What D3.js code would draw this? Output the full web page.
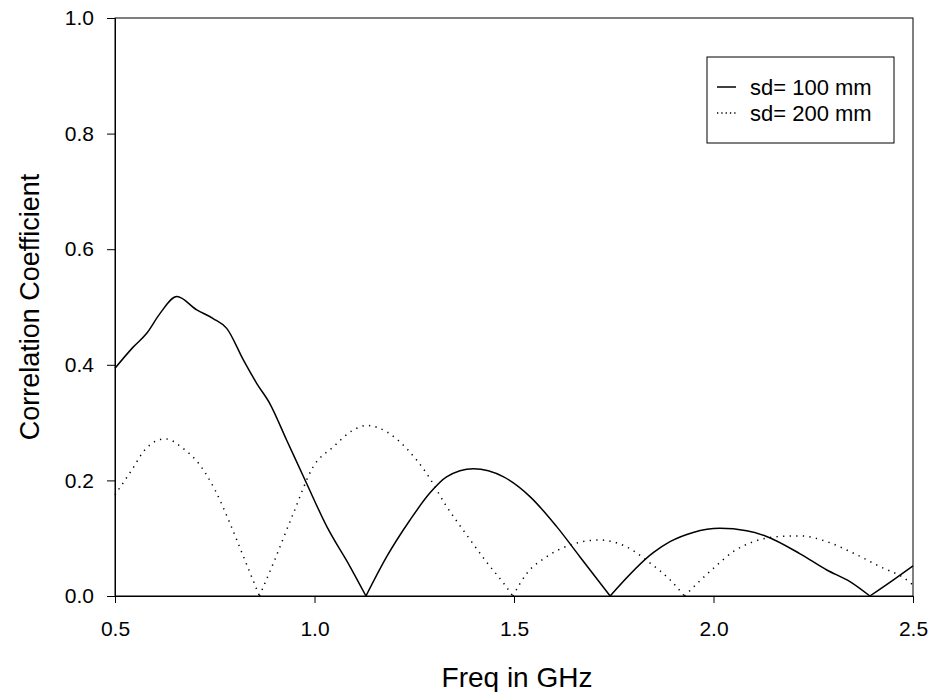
<!DOCTYPE html>
<html>
<head>
<meta charset="utf-8">
<script src="https://cdn.jsdelivr.net/npm/d3@7"></script>
<style>
  body { margin: 0; background: #fff; }
  text { font-family: "Liberation Sans", Arial, sans-serif; fill: #000; }
</style>
</head>
<body>
<script>
const width = 933;
const height = 692;
const margin = { top: 18, right: 20, bottom: 96, left: 115 };

// frequency (GHz) and correlation
const freq100 = [0.5, 0.546, 0.579, 0.613, 0.655, 0.705, 0.746, 0.78, 0.822, 0.855, 0.888, 0.93, 0.98, 1.031, 1.089, 1.129,
  1.181, 1.239, 1.289, 1.331, 1.398, 1.474, 1.54, 1.607, 1.665, 1.741,
  1.849, 1.891, 1.949, 2.016, 2.083, 2.133, 2.217, 2.284, 2.342, 2.392, 2.451, 2.5];
const corr100 = [0.394, 0.431, 0.454, 0.489, 0.518, 0.495, 0.48, 0.463, 0.408, 0.368, 0.333, 0.27, 0.195, 0.12, 0.051, 0,
  0.068, 0.131, 0.178, 0.206, 0.22, 0.206, 0.172, 0.12, 0.068, 0,
  0.075, 0.094, 0.11, 0.117, 0.113, 0.103, 0.073, 0.045, 0.025, 0, 0.028, 0.052];

const freq200 = [0.5, 0.542, 0.575, 0.625, 0.675, 0.709, 0.751, 0.788, 0.822, 0.862,
  0.897, 0.947, 0.997, 1.047, 1.097, 1.131, 1.181, 1.231, 1.281, 1.331, 1.381, 1.431, 1.474, 1.497,
  1.532, 1.582, 1.649, 1.715, 1.782, 1.841, 1.891, 1.927,
  2.0, 2.05, 2.1, 2.167, 2.217, 2.284, 2.351, 2.417, 2.484, 2.5];
const corr200 = [0.175, 0.218, 0.253, 0.272, 0.253, 0.23, 0.183, 0.126, 0.068, 0,
  0.057, 0.143, 0.224, 0.258, 0.287, 0.295, 0.284, 0.255, 0.212, 0.155, 0.106, 0.059, 0.022, 0,
  0.039, 0.068, 0.09, 0.097, 0.085, 0.057, 0.028, 0,
  0.048, 0.077, 0.094, 0.103, 0.104, 0.094, 0.074, 0.051, 0.028, 0.019];

const xTicks = [0.5, 1.0, 1.5, 2.0, 2.5];
const yTicks = [0.0, 0.2, 0.4, 0.6, 0.8, 1.0];
const seriesNames = ["sd= 100 mm", "sd= 200 mm"];

const svg = d3.select('body').append('svg')
  .attr('width', width)
  .attr('height', height);

const x = d3.scaleLinear()
  .domain([0.5, 2.5])
  .range([margin.left, width - margin.right]);

const y = d3.scaleLinear()
  .domain([0, 1])
  .range([height - margin.bottom, margin.top]);

// split each series at the zero points so the cusps stay sharp
const lobes = (xs, ys) => {
  const parts = [];
  let cur = [];
  xs.forEach((f, i) => {
    cur.push([f, ys[i]]);
    if (ys[i] === 0 && cur.length > 1) {
      parts.push(cur);
      cur = [[f, ys[i]]];
    }
  });
  if (cur.length > 1) parts.push(cur);
  return parts;
}

const line = d3.line()
  .x(d => x(d[0]))
  .y(d => y(d[1]))
  .curve(d3.curveMonotoneX);

svg.append('g').selectAll('path')
  .data(lobes(freq100, corr100))
  .join('path')
  .attr('d', line)
  .attr('fill', 'none')
  .attr('stroke', '#000')
  .attr('stroke-width', 1.5);

svg.append('g').selectAll('path')
  .data(lobes(freq200, corr200))
  .join('path')
  .attr('d', line)
  .attr('fill', 'none')
  .attr('stroke', '#000')
  .attr('stroke-width', 1.5)
  .attr('stroke-dasharray', '1.3,5.3');

// frame
svg.append('rect')
  .attr('x', x(0.5))
  .attr('y', y(1))
  .attr('width', x(2.5) - x(0.5))
  .attr('height', y(0) - y(1))
  .attr('fill', 'none')
  .attr('stroke', '#000')
  .attr('stroke-width', 1);

const xAxis = svg.append('g')
  .attr('transform', `translate(0, ${y(0)})`)
  .call(d3.axisBottom(x).tickValues(xTicks).tickFormat(d3.format('.1f')).tickSizeOuter(0).tickSize(7).tickPadding(18));

const yAxis = svg.append('g')
  .attr('transform', `translate(${x(0.5)}, 0)`)
  .call(d3.axisLeft(y).tickValues(yTicks).tickFormat(d3.format('.1f')).tickSizeOuter(0).tickSize(8).tickPadding(13));

[xAxis, yAxis].forEach(g => {
  g.selectAll('text').style('font-size', '21px').style('font-family', '"Liberation Sans", Arial, sans-serif');
  g.selectAll('line, path').attr('stroke', '#000');
});

svg.append('text')
  .attr('x', (x(0.5) + x(2.5)) / 2 + 3)
  .attr('y', 687)
  .attr('text-anchor', 'middle')
  .style('font-size', '28px')
  .text('Freq in GHz');

svg.append('text')
  .attr('transform', `translate(39, ${(y(0) + y(1)) / 2}) rotate(-90)`)
  .attr('text-anchor', 'middle')
  .style('font-size', '27px')
  .text('Correlation Coefficient');

// legend
const legend = svg.append('g');
legend.append('rect')
  .attr('x', 707).attr('y', 57)
  .attr('width', 187).attr('height', 86)
  .attr('fill', '#fff').attr('stroke', '#000').attr('stroke-width', 1);

seriesNames.forEach((name, i) => {
  const base = 95 + i * 26;
  const ly = base - 8;
  legend.append('line')
    .attr('x1', 717).attr('x2', 736)
    .attr('y1', ly).attr('y2', ly)
    .attr('stroke', '#000').attr('stroke-width', i === 0 ? 1.5 : 1.3)
    .attr('stroke-dasharray', i === 0 ? null : '1.3,3');
  legend.append('text')
    .attr('x', 750).attr('y', base)
    .style('font-size', '22px')
    .text(name);
});
</script>
</body>
</html>
